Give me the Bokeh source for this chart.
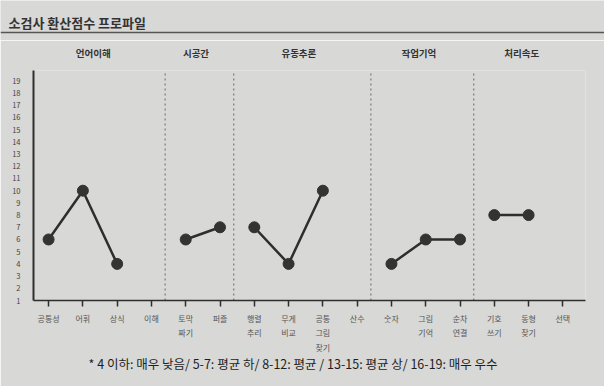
from bokeh.plotting import figure
from bokeh.models import Range1d, FixedTicker, Label, Span, LinearAxis, Title
from bokeh.layouts import column
from bokeh.embed import file_html
from bokeh.resources import INLINE

# ---- data ----
title_text = "소검사 환산점수 프로파일"
footnote = "* 4 이하: 매우 낮음/ 5-7: 평균 하/ 8-12: 평균 / 13-15: 평균 상/ 16-19: 매우 우수"
subtests = ["공통성", "어휘", "상식", "이해", "토막\n짜기", "퍼즐", "행렬\n추리", "무게\n비교",
            "공통\n그림\n찾기", "산수", "숫자", "그림\n기억", "순차\n연결", "기호\n쓰기", "동형\n찾기", "선택"]
scores = [6, 10, 4, None, 6, 7, 7, 4, 10, None, 4, 6, 6, 8, 8, None]
groups = ["언어이해"] * 4 + ["시공간"] * 2 + ["유동추론"] * 4 + ["작업기억"] * 3 + ["처리속도"] * 3
group_names = ["언어이해", "시공간", "유동추론", "작업기억", "처리속도"]
y_ticks = list(range(1, 20))

FONT = "Noto Sans CJK KR"
BG = "#d8d8d6"
INK = "#2e2e2e"

# ---- header ----
W = 604
HH = 40
hdr = figure(width=W, height=HH, x_range=Range1d(0, W), y_range=Range1d(HH, 0),
             output_backend="svg", toolbar_location=None, min_border=0,
             x_axis_location=None, y_axis_location=None)
hdr.frame_align = False
hdr.grid.visible = False
hdr.outline_line_color = None
hdr.background_fill_color = BG
hdr.border_fill_color = BG
hdr.add_layout(Label(x=8, y=22, text=title_text, text_baseline="middle", text_align="left",
                     text_font=FONT, text_font_size="13px", text_color="#333333",
                     text_font_style="bold"))
hdr.add_layout(Span(location=32, dimension="width", line_color="#555555", line_width=1.5))

# ---- main chart ----
n = len(subtests)
Y0, Y1 = 1, 19.85
p = figure(width=W, height=386 - HH, x_range=Range1d(-0.44, 15.66), y_range=Range1d(Y0, Y1),
           output_backend="svg", toolbar_location=None,
           min_border_left=33, min_border_right=19, min_border_top=30, min_border_bottom=86)
p.grid.visible = False
p.outline_line_color = None
p.background_fill_color = BG
p.border_fill_color = BG

p.xaxis.ticker = FixedTicker(ticks=list(range(n)))
p.xaxis.major_label_overrides = {i: s for i, s in enumerate(subtests)}
p.xaxis.major_tick_out = 6
p.xaxis.major_tick_in = 0
p.xaxis.minor_tick_line_color = None
p.xaxis.axis_line_width = 1.5
p.xaxis.axis_line_color = INK
p.xaxis.major_tick_line_color = INK
p.xaxis.major_tick_line_width = 1.5
p.xaxis.major_label_text_font = FONT
p.xaxis.major_label_text_font_size = "8px"
p.xaxis.major_label_text_color = "#555555"
p.xaxis.major_label_standoff = 6
p.xaxis.major_label_text_line_height = 1.35

p.yaxis.ticker = FixedTicker(ticks=y_ticks)
p.yaxis.major_tick_line_color = None
p.yaxis.minor_tick_line_color = None
p.yaxis.axis_line_width = 2
p.yaxis.axis_line_color = INK
p.yaxis.major_label_text_font = FONT
p.yaxis.major_label_text_font_size = "7.5px"
p.yaxis.major_label_text_color = "#444444"
p.yaxis.major_label_standoff = 7

# group labels (as a top axis) and dividers
centers = {}
div_x = []
for g in group_names:
    idx = [i for i, gg in enumerate(groups) if gg == g]
    c = (idx[0] + idx[-1]) / 2 - 0.2
    centers[c] = g
    if idx[-1] < n - 1:
        div_x.append(idx[-1] + 0.5 - 0.1)
p.segment(x0=div_x, y0=[Y0] * len(div_x), x1=div_x, y1=[Y1] * len(div_x),
          line_color="#7a7a7a", line_width=1.2, line_dash="2 3")

top_axis = LinearAxis(ticker=FixedTicker(ticks=list(centers.keys())),
                      major_label_overrides=centers,
                      axis_line_color=None, major_tick_line_color=None, minor_tick_line_color=None,
                      major_label_standoff=5, major_label_text_font=FONT,
                      major_label_text_font_size="9.5px", major_label_text_font_style="bold",
                      major_label_text_color="#333333")
p.add_layout(top_axis, "above")

# lines per group
for g in group_names:
    xs = [i for i, gg in enumerate(groups) if gg == g and scores[i] is not None]
    ys = [scores[i] for i in xs]
    if len(xs) > 1:
        p.line(xs, ys, line_width=2.5, line_color=INK)

px = [i for i in range(n) if scores[i] is not None]
py = [scores[i] for i in px]
p.scatter(px, py, size=11, fill_color="#333333", line_color="#333333")

p.add_layout(Title(text=footnote, align="left", offset=55, standoff=-10,
                   text_font=FONT, text_font_size="12.5px", text_font_style="normal",
                   text_color="#1e1e1e"), "below")

layout = column(hdr, p, spacing=0)
open("out.html", "w").write(file_html(layout, INLINE))
